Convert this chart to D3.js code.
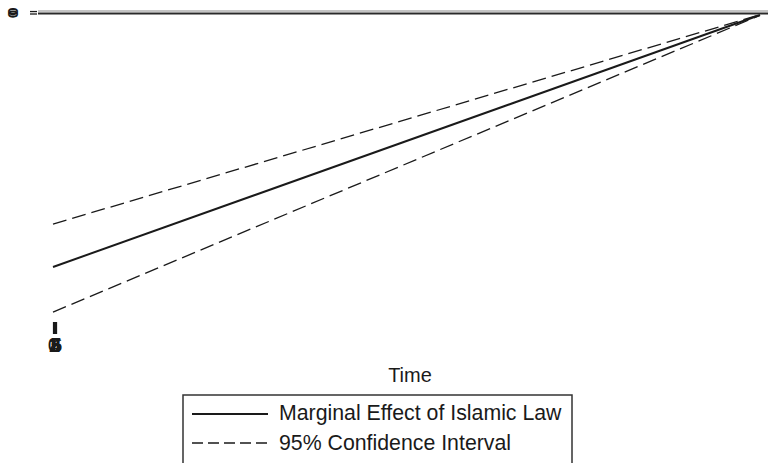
<!DOCTYPE html>
<html>
<head>
<meta charset="utf-8">
<script src="https://cdn.jsdelivr.net/npm/d3@7"></script>
<style>
  html, body { margin: 0; padding: 0; background: #fff; }
  svg { display: block; font-family: "Liberation Sans", Arial, sans-serif; }
</style>
</head>
<body>
<svg id="chart" width="768" height="463"></svg>
<script>
// ---- data ----
const timePoints = [0, 1400];
const marginalEffect = [-82.7, -0.5];
const ciUpper = [-68.7, -0.4];
const ciLower = [-97.4, -0.6];
const xTickValues = [0, 1, 2, 3, 4, 5, 6];
const xTickLabels = ["0", "1", "2", "3", "4", "5", "6"];
const yTickValues = [0.8, 0];
const yTickLabels = ["0", "0"];
const legendLabels = ["Marginal Effect of Islamic Law", "95% Confidence Interval"];
const xTitle = "Time";

const svg = d3.select("#chart");
const W = 768;
const x = d3.scaleLinear().domain([0, 1400]).range([53, 760]);
const y = d3.scaleLinear().domain([-100, 0]).range([320, 13.5]);
const ink = "#1a1a1a";

// gridlines / reference lines
svg.selectAll("line.grid").data(yTickValues).enter().append("line")
  .attr("class", "grid")
  .attr("x1", 38).attr("x2", W)
  .attr("y1", d => y(d)).attr("y2", d => y(d))
  .attr("stroke", (d, i) => i === 0 ? "#c4c4c4" : "#2a2a2a")
  .attr("stroke-width", 2);

// series
const pts = (arr) => timePoints.map((t, i) => [t, arr[i]]);
const line = d3.line().x(d => x(d[0])).y(d => y(d[1]));
const series = [
  { v: ciUpper, dash: "14,6", w: 1.3 },
  { v: ciLower, dash: "14,6", w: 1.3 },
  { v: marginalEffect, dash: null, w: 2 }
];
series.forEach(s => {
  svg.append("path")
    .datum(pts(s.v))
    .attr("d", line)
    .attr("fill", "none")
    .attr("stroke", ink)
    .attr("stroke-width", s.w)
    .attr("stroke-dasharray", s.dash);
});

// x axis
const xAxis = d3.axisBottom(x)
  .tickValues(xTickValues)
  .tickFormat((d, i) => xTickLabels[i])
  .tickSize(12).tickPadding(3);
const gx = svg.append("g").attr("transform", "translate(0,322)").call(xAxis);
gx.select(".domain").remove();
gx.selectAll(".tick line").attr("stroke", ink).attr("stroke-width", 1.2);
gx.selectAll(".tick text").attr("fill", ink).style("font-size", "21px");

// y axis
const yAxis = d3.axisLeft(y)
  .tickValues(yTickValues)
  .tickFormat((d, i) => yTickLabels[i])
  .tickSize(7);
const gy = svg.append("g").attr("transform", "translate(37,0)").call(yAxis);
gy.select(".domain").remove();
gy.selectAll(".tick line").attr("stroke", ink).attr("stroke-width", 1.3);
gy.selectAll(".tick text")
  .attr("x", 0).attr("dy", 0)
  .attr("text-anchor", "middle")
  .attr("transform", "translate(-19,0) rotate(-90)")
  .attr("fill", ink)
  .style("font-size", "15px")
  .style("font-weight", "bold");

// x title
svg.append("text")
  .attr("x", 410).attr("y", 382)
  .attr("text-anchor", "middle")
  .attr("fill", ink)
  .style("font-size", "20px")
  .text(xTitle);

// legend
const lg = svg.append("g");
lg.append("rect")
  .attr("x", 183).attr("y", 395)
  .attr("width", 389).attr("height", 100)
  .attr("fill", "#fff")
  .attr("stroke", "#333").attr("stroke-width", 1.5);
const legendRows = [
  { y: 414, ty: 420, dash: null, w: 2 },
  { y: 443, ty: 450, dash: "11,5", w: 1.3 }
];
legendRows.forEach((r, i) => {
  lg.append("line")
    .attr("x1", 192).attr("x2", 268)
    .attr("y1", r.y).attr("y2", r.y)
    .attr("stroke", ink).attr("stroke-width", r.w)
    .attr("stroke-dasharray", r.dash);
  lg.append("text")
    .attr("x", 279).attr("y", r.ty)
    .attr("fill", ink)
    .style("font-size", "21.3px")
    .text(legendLabels[i]);
});
</script>
</body>
</html>
